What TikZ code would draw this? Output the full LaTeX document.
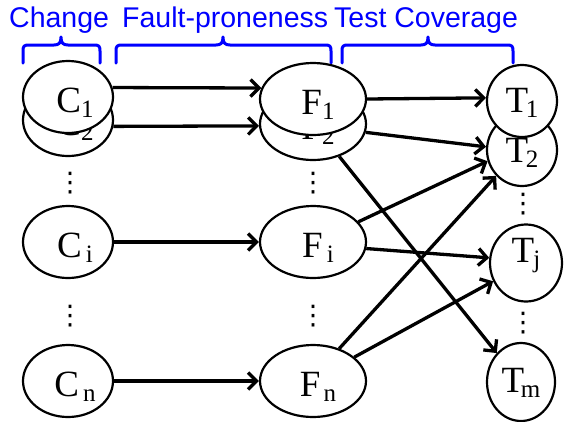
\documentclass[tikz,border=0pt]{standalone}
\usepackage{fontspec}
\setmainfont{Liberation Serif}
\newfontfamily\hdrfont{Liberation Sans}
\newfontfamily\symfont{DejaVu Sans}
\usetikzlibrary{arrows.meta,shapes.geometric}
\definecolor{hdrblue}{RGB}{0,0,255}
\newcommand\nlbl[3]{\fontsize{37}{37}\selectfont #1\kern#3\raisebox{-5pt}{\fontsize{25}{25}\selectfont #2}}
\newcommand\hbrace[3]{%
  \draw[bracestyle] (#1,63) -- (#1,51) .. controls (#1,46) and ({#1+1},45) .. ({#1+6},45)
    -- ({#2-7},45) .. controls ({#2-2},45) and (#2,43) .. (#2,37)
    .. controls (#2,43) and ({#2+2},45) .. ({#2+7},45)
    -- ({#3-6},45) .. controls ({#3-1},45) and (#3,46) .. (#3,51) -- (#3,63);}
\begin{document}
\begin{tikzpicture}[x=1pt,y=-1pt,
  basenode/.style={ellipse,draw,line width=2.2pt,fill=white,inner sep=0pt,text height=30pt,text depth=0pt},
  cnode/.style={basenode,minimum width=90pt,minimum height=72pt},
  fnode/.style={basenode,minimum width=106pt,minimum height=72pt},
  tnode/.style={basenode,minimum width=70pt,minimum height=72pt},
  arr/.style={line width=3.3pt,-{Straight Barb[length=8.5pt,width=17pt]}},
  dotsnode/.style={inner sep=0pt,font=\symfont\fontsize{27}{27}\selectfont},
  hdr/.style={anchor=base west,inner sep=0pt,text=hdrblue,font=\hdrfont\fontsize{28.5}{28.5}\selectfont},
  bracestyle/.style={draw=hdrblue,line width=3pt,line cap=round,line join=round}]
\useasboundingbox (0,0) rectangle (575,421);

% headers
\node[hdr] (hc) at (9,27) {Change};
\node[hdr] (hf) at (122,27) {Fault-proneness};
\node[hdr] (ht) at (334,27) {Test Coverage};
\hbrace{23}{61}{100}
\hbrace{116}{223}{331}
\hbrace{342}{428}{513}

% change column
\node[cnode] (C2) at (68,120) {\hspace*{14pt}\nlbl{C}{2}{0pt}};
\node[cnode] (C1) at (68,97) {\hspace*{14pt}\nlbl{C}{1}{0pt}};
\node[cnode] (Ci) at (68,242) {\hspace*{14pt}\nlbl{C}{i}{4pt}};
\node[cnode] (Cn) at (68,381) {\hspace*{14pt}\nlbl{C}{n}{4pt}};

% fault column
\node[fnode] (F2) at (313,124) {\hspace*{10pt}\nlbl{F}{2}{0pt}};
\node[fnode] (F1) at (313,99) {\hspace*{10pt}\nlbl{F}{1}{0pt}};
\node[fnode] (Fi) at (313,242) {\hspace*{10pt}\nlbl{F}{i}{4pt}};
\node[fnode] (Fn) at (313,381) {\hspace*{10pt}\nlbl{F}{n}{3pt}};

% test column
\node[tnode,text height=24pt] (T2) at (522,150) {\nlbl{T}{2}{-2.5pt}};
\node[tnode,text height=22pt] (T1) at (522,101) {\nlbl{T}{1}{-2.5pt}};
\node[tnode,minimum width=72pt,minimum height=77pt,text height=14pt,text depth=16pt] (Tj) at (526,263) {\nlbl{T}{j}{-1pt}};
\node[tnode,minimum width=68pt,minimum height=78pt,text height=20pt] (Tm) at (521,382) {\nlbl{T}{m}{-3.5pt}};

% vertical dots
\node[dotsnode] (dc1) at (70,183) {⋮};
\node[dotsnode] (dc2) at (70,316) {⋮};
\node[dotsnode] (df1) at (313,183) {⋮};
\node[dotsnode] (df2) at (313,316) {⋮};
\node[dotsnode] (dt1) at (523,204) {⋮};
\node[dotsnode] (dt2) at (523,323) {⋮};

% arrows change -> fault
\draw[arr] (C1.12) -- (F1.168);
\draw[arr] (C2.-8) -- (F2.182);
\draw[arr] (Ci.east) -- (Fi.west);
\draw[arr] (Cn.east) -- (Fn.west);

% arrows fault -> test
\draw[arr] (F1.east) -- (T1.175);
\draw[arr] (F2.-9) -- (T2.175);
\draw[arr] (F2.-51) -- (Tm.130);
\draw[arr] (Fi.24) -- (T2.198);
\draw[arr] (Fi.-7) -- (Tj.172);
\draw[arr] (Fn.51) -- (T2.225);
\draw[arr] (Fn.30) -- (Tj.209);
\end{tikzpicture}
\end{document}
